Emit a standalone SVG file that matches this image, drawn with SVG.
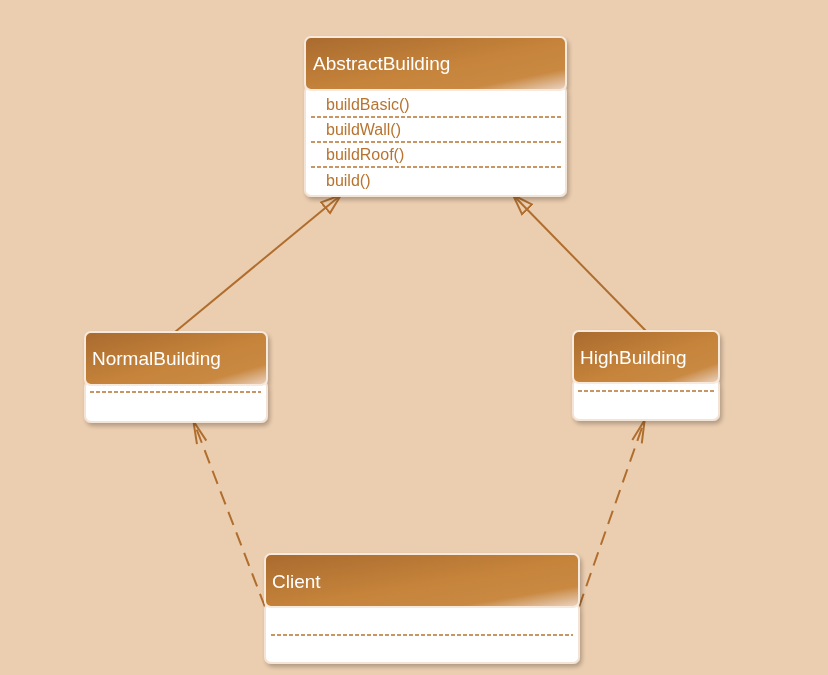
<svg xmlns="http://www.w3.org/2000/svg" width="828" height="675" viewBox="0 0 828 675">
<defs>
<linearGradient id="hdr" x1="0" y1="0" x2="1" y2="1" gradientUnits="objectBoundingBox">
<stop offset="0" stop-color="#a96a2e"/>
<stop offset="0.55" stop-color="#c6843b"/>
<stop offset="0.8" stop-color="#c98942"/>
<stop offset="1" stop-color="#ecd6c6"/>
</linearGradient>
<filter id="sh" x="-10%" y="-10%" width="125%" height="130%">
<feGaussianBlur in="SourceAlpha" stdDeviation="2"/>
<feOffset dx="2" dy="3"/>
<feComponentTransfer><feFuncA type="linear" slope="0.25"/></feComponentTransfer>
<feMerge><feMergeNode/><feMergeNode in="SourceGraphic"/></feMerge>
</filter>
<marker id="tri" viewBox="0 0 22 18" refX="21" refY="9" markerWidth="22" markerHeight="18" markerUnits="userSpaceOnUse" orient="auto">
<path d="M1,2 L21,9 L1,16 Z" fill="none" stroke="#b06e2e" stroke-width="2" stroke-linejoin="miter"/>
</marker>
<marker id="open" viewBox="0 0 26 20" refX="25" refY="10" markerWidth="26" markerHeight="20" markerUnits="userSpaceOnUse" orient="auto">
<path d="M1,5 L24,10 L1,15" fill="none" stroke="#b06e2e" stroke-width="2"/>
</marker>
</defs>
<style>
.hd{fill:url(#hdr);stroke:#f7e9dc;stroke-width:2}
.bd{fill:#ffffff;stroke:#f3e4d6;stroke-width:2}
.ttl{font-family:"Liberation Sans",Arial,sans-serif;font-size:19px;fill:#ffffff}
.mt{font-family:"Liberation Sans",Arial,sans-serif;font-size:16px;fill:#b8732f}
.dl{stroke:#b8732f;stroke-width:1.5;stroke-dasharray:4,2;fill:none}
.c{stroke:#b06e2e;stroke-width:2;fill:none}
.dash{stroke-dasharray:14,8}
</style>
<rect width="828" height="675" fill="#ebcdaf"/>

<g id="connectors">
<line class="c" x1="175" y1="332" x2="341" y2="195" marker-end="url(#tri)"/>
<line class="c" x1="646" y1="331" x2="513" y2="195" marker-end="url(#tri)"/>
<line class="c dash" x1="265" y1="607" x2="193" y2="420" marker-end="url(#open)"/>
<line class="c dash" x1="579" y1="607" x2="645" y2="419" marker-end="url(#open)"/>
</g>

<g id="AbstractBuilding" filter="url(#sh)">
<rect class="bd" x="305" y="86" width="261" height="110" rx="6"/>
<rect class="hd" x="305" y="37" width="261" height="53" rx="6"/>
<text class="ttl" x="313" y="70">AbstractBuilding</text>
<text class="mt" x="326" y="110">buildBasic()</text>
<line class="dl" x1="311" y1="117" x2="561" y2="117"/>
<text class="mt" x="326" y="135">buildWall()</text>
<line class="dl" x1="311" y1="142" x2="561" y2="142"/>
<text class="mt" x="326" y="160">buildRoof()</text>
<line class="dl" x1="311" y1="167" x2="561" y2="167"/>
<text class="mt" x="326" y="186">build()</text>
</g>

<g id="NormalBuilding" filter="url(#sh)">
<rect class="bd" x="85" y="381" width="182" height="41" rx="6"/>
<rect class="hd" x="85" y="332" width="182" height="53" rx="6"/>
<text class="ttl" x="92" y="365">NormalBuilding</text>
<line class="dl" x1="90" y1="392" x2="261" y2="392"/>
</g>

<g id="HighBuilding" filter="url(#sh)">
<rect class="bd" x="573" y="379" width="146" height="41" rx="6"/>
<rect class="hd" x="573" y="331" width="146" height="52" rx="6"/>
<text class="ttl" x="580" y="364">HighBuilding</text>
<line class="dl" x1="578" y1="391" x2="714" y2="391"/>
</g>

<g id="Client" filter="url(#sh)">
<rect class="bd" x="265" y="603" width="314" height="60" rx="6"/>
<rect class="hd" x="265" y="554" width="314" height="53" rx="6"/>
<text class="ttl" x="272" y="588">Client</text>
<line class="dl" x1="271" y1="635" x2="573" y2="635"/>
</g>
</svg>
